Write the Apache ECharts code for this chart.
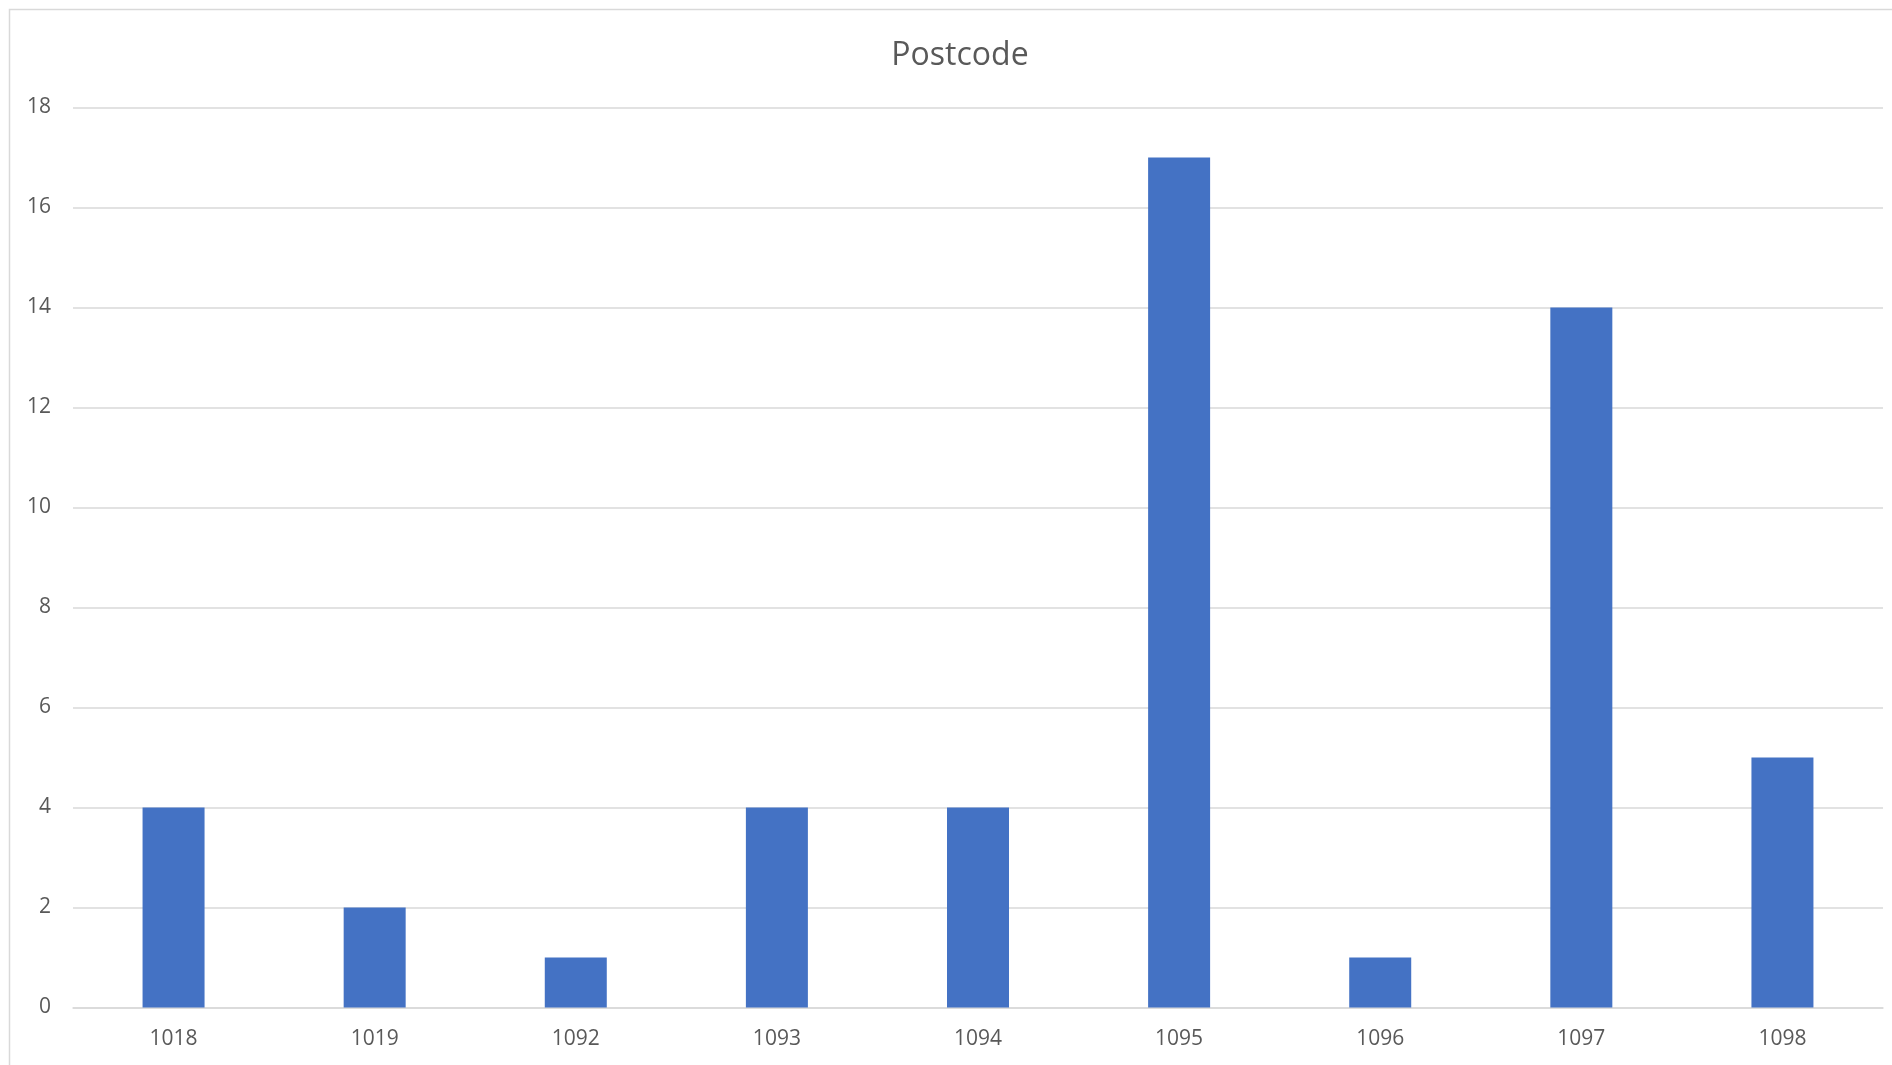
<!DOCTYPE html>
<html>
<head>
<meta charset="utf-8">
<script src="https://cdn.jsdelivr.net/npm/echarts@6/dist/echarts.min.js"></script>
<style>
html,body{margin:0;padding:0;background:#fff;}
#chart{width:1892px;height:1065px;}
</style>
</head>
<body>
<div id="chart"></div>
<script>
const categories = ['1018','1019','1092','1093','1094','1095','1096','1097','1098'];
const values = [4, 2, 1, 4, 4, 17, 1, 14, 5];
const yTicks = {min: 0, max: 18, interval: 2};
const chartTitle = 'Postcode';

const chart = echarts.init(document.getElementById('chart'));
chart.setOption({
  backgroundColor: '#ffffff',
  animation: false,
  textStyle: {fontFamily: 'Open Sans'},
  title: {
    text: chartTitle,
    left: 955,
    top: 35,
    textAlign: 'center',
    textStyle: {fontFamily: 'Open Sans', fontSize: 32, fontWeight: 'normal', color: '#595959'}
  },
  graphic: [{
    type: 'rect',
    shape: {x: 9.5, y: 9.5, width: 1900, height: 1100},
    style: {fill: 'none', stroke: '#d9d9d9', lineWidth: 1.5},
    silent: true,
    z: -1
  }],
  grid: {left: 73, right: 9, top: 107.5, bottom: 57.5, containLabel: false},
  xAxis: {
    type: 'category',
    data: categories,
    axisLine: {show: true, lineStyle: {color: '#d9d9d9', width: 1.5}},
    axisTick: {show: false},
    axisLabel: {color: '#595959', fontSize: 21, margin: 21, fontFamily: 'Open Sans'}
  },
  yAxis: {
    type: 'value',
    min: yTicks.min,
    max: yTicks.max,
    interval: yTicks.interval,
    axisLine: {show: false},
    axisTick: {show: false},
    axisLabel: {color: '#595959', fontSize: 21, margin: 22, fontFamily: 'Open Sans', lineHeight: 24, verticalAlign: 'middle'},
    splitLine: {lineStyle: {color: '#d9d9d9', width: 1.5}}
  },
  series: [{
    type: 'bar',
    data: values,
    barWidth: 62,
    itemStyle: {color: '#4472C4'}
  }]
});
</script>
</body>
</html>
